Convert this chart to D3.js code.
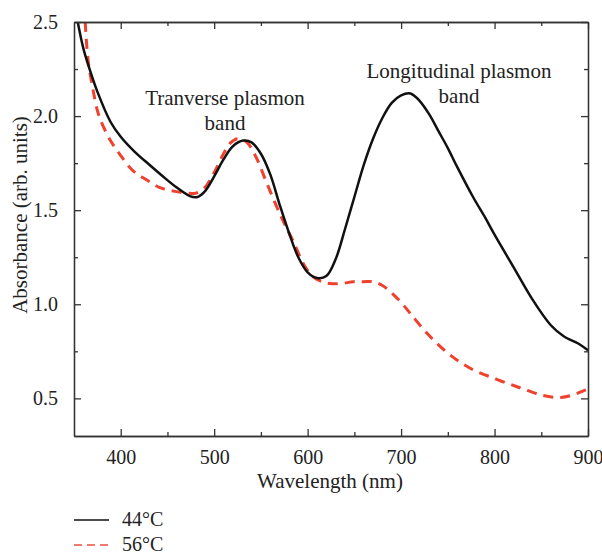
<!DOCTYPE html>
<html lang="en">
<head>
    <meta charset="UTF-8">
    <title>Absorbance</title>
    <script src="https://d3js.org/d3.v7.min.js"></script>
    <style>
        body { margin: 0; background: #fff; }
        text { font-family: "Liberation Serif", "DejaVu Serif", serif; fill: #222; }
    </style>
</head>
<body>
    <div id="plot"></div>

    <script>
        function translate(x, y){
            return 'translate(' + x + ', ' + y + ')';
        }

        // 44°C spectrum
        let wl44 = [354, 360, 366, 375, 389, 400, 415, 431, 445, 460, 474, 482, 490, 500, 510, 520, 531, 540, 550, 560, 570, 580, 590, 600, 610, 620, 630, 640, 650, 660, 670, 680, 690, 700, 710, 720, 730, 740, 750, 760, 777, 790, 800, 820, 840, 860, 874, 890, 900];
        let abs44 = [2.50, 2.36, 2.26, 2.13, 1.97, 1.89, 1.81, 1.74, 1.68, 1.62, 1.575, 1.57, 1.60, 1.68, 1.77, 1.84, 1.87, 1.86, 1.80, 1.69, 1.53, 1.38, 1.25, 1.17, 1.14, 1.15, 1.24, 1.40, 1.57, 1.74, 1.88, 1.99, 2.07, 2.11, 2.12, 2.08, 2.01, 1.92, 1.83, 1.73, 1.57, 1.46, 1.37, 1.20, 1.03, 0.89, 0.83, 0.79, 0.755];

        // 56°C spectrum
        let wl56 = [362, 365, 370, 375, 380, 389, 400, 413, 428, 442, 458, 474, 480, 490, 500, 510, 518, 525, 535, 545, 555, 565, 575, 585, 595, 605, 615, 624, 636, 649, 660, 670, 680, 690, 700, 710, 728, 750, 774, 803, 828, 852, 871, 885, 895, 900];
        let abs56 = [2.50, 2.30, 2.15, 2.03, 1.96, 1.87, 1.79, 1.71, 1.66, 1.62, 1.60, 1.59, 1.59, 1.62, 1.70, 1.80, 1.86, 1.88, 1.86, 1.78, 1.66, 1.54, 1.43, 1.33, 1.22, 1.15, 1.12, 1.11, 1.11, 1.12, 1.12, 1.12, 1.10, 1.06, 1.01, 0.95, 0.845, 0.74, 0.66, 0.60, 0.555, 0.515, 0.505, 0.52, 0.54, 0.55];

        let xMajor = [400, 500, 600, 700, 800, 900];
        let xMinor = [450, 550, 650, 750, 850];
        let yMajor = [0.5, 1.0, 1.5, 2.0, 2.5];
        let yMinor = [0.75, 1.25, 1.75, 2.25];

        let seriesNames = ['44°C', '56°C'];

        let svgWidth = 602;
        let svgHeight = 556;
        let margin = {top: 22, left: 74};
        let width = 514;
        let height = 414;

        let svg = d3.select('#plot')
                    .append('svg')
                        .attr('width', svgWidth)
                        .attr('height', svgHeight);

        let g = svg.append('g').attr('transform', translate(margin.left, margin.top));

        let x = d3.scaleLinear().domain([350, 900]).range([0, width]);
        let y = d3.scaleLinear().domain([0.3, 2.5]).range([height, 0]);

        svg.append('defs').append('clipPath').attr('id', 'clip')
            .append('rect').attr('width', width).attr('height', height);

        let line = d3.line()
                        .x(d => x(d[0]))
                        .y(d => y(d[1]))
                        .curve(d3.curveCatmullRom.alpha(0.5));

        let plot = g.append('g').attr('clip-path', 'url(#clip)');

        plot.append('path')
            .datum(wl56.map((w, i) => [w, abs56[i]]))
            .attr('d', line)
            .attr('fill', 'none')
            .attr('stroke', '#f0412f')
            .attr('stroke-width', 3)
            .attr('stroke-dasharray', '10,7');

        plot.append('path')
            .datum(wl44.map((w, i) => [w, abs44[i]]))
            .attr('d', line)
            .attr('fill', 'none')
            .attr('stroke', '#111')
            .attr('stroke-width', 2.5);

        // frame with inward ticks on all four sides
        function styleAxis(sel){
            sel.select('.domain').attr('stroke', '#333').attr('stroke-width', 1.3);
            sel.selectAll('.tick line').attr('stroke', '#333').attr('stroke-width', 1.3);
            sel.selectAll('.tick text').style('font-size', '20px')
                .style('font-family', '"Liberation Serif", serif').attr('fill', '#222');
        }

        function addAxes(axisFn, scale, major, minor, tr, labels, pad){
            let ax = g.append('g').attr('transform', tr)
                .call(axisFn(scale).tickValues(major).tickSizeInner(-7).tickSizeOuter(0)
                        .tickPadding(pad)
                        .tickFormat(labels ? d3.format('.1f') : ''));
            styleAxis(ax);
            let mi = g.append('g').attr('transform', tr)
                .call(axisFn(scale).tickValues(minor).tickSizeInner(-4).tickSizeOuter(0).tickFormat(''));
            styleAxis(mi);
            return ax;
        }

        let xb = addAxes(d3.axisBottom, x, xMajor, xMinor, translate(0, height), true, 14);
        xb.selectAll('.tick text').text(d => d);
        addAxes(d3.axisTop, x, xMajor, xMinor, translate(0, 0), false, 0);
        addAxes(d3.axisLeft, y, yMajor, yMinor, translate(0, 0), true, 16);
        addAxes(d3.axisRight, y, yMajor, yMinor, translate(width, 0), false, 0);

        // axis titles
        g.append('text')
            .attr('x', 256).attr('y', height + 52)
            .attr('text-anchor', 'middle')
            .style('font-size', '21px')
            .text('Wavelength (nm)');

        svg.append('text')
            .attr('transform', translate(27, 215) + ' rotate(-90)')
            .attr('text-anchor', 'middle')
            .style('font-size', '21px')
            .text('Absorbance (arb. units)');

        // annotations
        let notes = [
            {lines: ['Tranverse plasmon', 'band'], cx: 225, y0: 105},
            {lines: ['Longitudinal plasmon', 'band'], cx: 459, y0: 78}
        ];
        notes.forEach(n => {
            n.lines.forEach((t, i) => {
                svg.append('text')
                    .attr('x', n.cx).attr('y', n.y0 + i * 25)
                    .attr('text-anchor', 'middle')
                    .style('font-size', '21px')
                    .text(t);
            });
        });

        // legend
        let legend = svg.append('g').attr('transform', translate(74, 520));
        seriesNames.forEach((name, i) => {
            let row = legend.append('g').attr('transform', translate(0, i * 25));
            row.append('line')
                .attr('x1', 0).attr('x2', 35)
                .attr('stroke', i === 0 ? '#111' : '#f07a70')
                .attr('stroke-width', i === 0 ? 1.3 : 2)
                .attr('stroke-dasharray', i === 0 ? null : '8,5');
            row.append('text')
                .attr('x', 48).attr('y', 6)
                .style('font-size', '20px')
                .text(name);
        });
    </script>
</body>
</html>
